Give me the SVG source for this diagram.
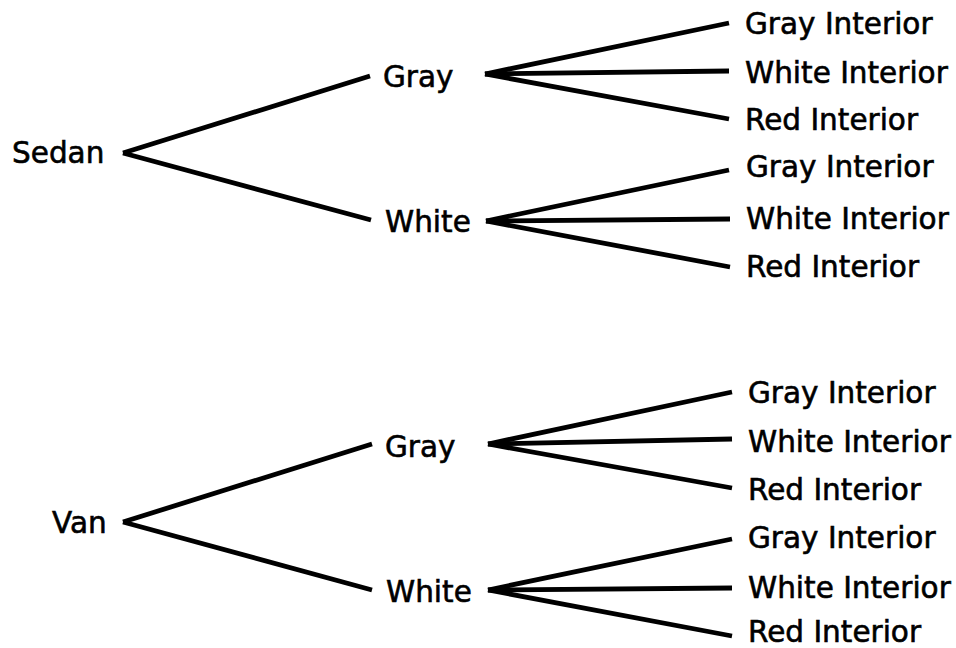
<svg xmlns="http://www.w3.org/2000/svg" width="956" height="648" viewBox="0 0 956 648">
<style>
text{font-family:"DejaVu Sans",sans-serif;font-size:29.5px;fill:#000;stroke:#000;stroke-width:0.6}
.c line{stroke:#000;stroke-width:4.8;stroke-linecap:butt}
</style>
<rect width="956" height="648" fill="#fff"/>
<g class="c" id="connectors">
<line x1="123" y1="153" x2="370" y2="76"/>
<line x1="123" y1="153" x2="371" y2="220"/>
<line x1="485" y1="74" x2="729" y2="23"/>
<line x1="485" y1="74" x2="729" y2="71"/>
<line x1="485" y1="74" x2="729" y2="119"/>
<line x1="486" y1="221" x2="729" y2="170"/>
<line x1="486" y1="221" x2="730" y2="219"/>
<line x1="486" y1="221" x2="730" y2="267"/>
<line x1="123" y1="522" x2="372" y2="444"/>
<line x1="123" y1="522" x2="372" y2="590"/>
<line x1="488" y1="444" x2="732" y2="392"/>
<line x1="488" y1="444" x2="732" y2="439"/>
<line x1="488" y1="444" x2="732" y2="488"/>
<line x1="488" y1="590" x2="732" y2="539"/>
<line x1="488" y1="590" x2="732" y2="588"/>
<line x1="488" y1="590" x2="732" y2="636"/>
</g>
<g id="sedan"><text x="12" y="163">Sedan</text></g>
<g id="sedan-gray"><text x="383" y="87">Gray</text></g>
<g id="sedan-white"><text x="385" y="232">White</text></g>
<g id="sg-gray"><text x="745" y="34">Gray Interior</text></g>
<g id="sg-white"><text x="745" y="83">White Interior</text></g>
<g id="sg-red"><text x="745" y="130">Red Interior</text></g>
<g id="sw-gray"><text x="746" y="177">Gray Interior</text></g>
<g id="sw-white"><text x="746" y="229">White Interior</text></g>
<g id="sw-red"><text x="746" y="277">Red Interior</text></g>
<g id="van"><text x="52" y="533">Van</text></g>
<g id="van-gray"><text x="385" y="457">Gray</text></g>
<g id="van-white"><text x="386" y="602">White</text></g>
<g id="vg-gray"><text x="748" y="403">Gray Interior</text></g>
<g id="vg-white"><text x="748" y="452">White Interior</text></g>
<g id="vg-red"><text x="748" y="500">Red Interior</text></g>
<g id="vw-gray"><text x="748" y="548">Gray Interior</text></g>
<g id="vw-white"><text x="748" y="598">White Interior</text></g>
<g id="vw-red"><text x="748" y="642">Red Interior</text></g>
</svg>
